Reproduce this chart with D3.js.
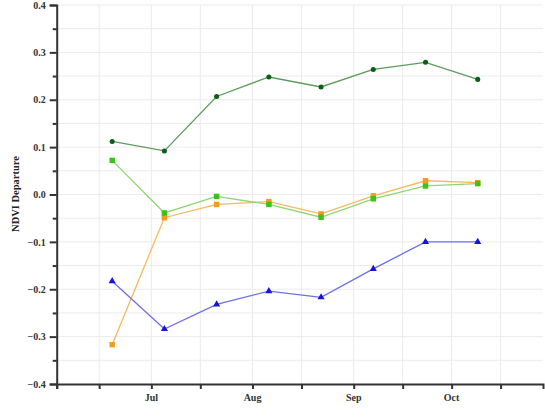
<!DOCTYPE html>
<html>
<head>
<meta charset="utf-8">
<script src="https://cdn.jsdelivr.net/npm/d3@7/dist/d3.min.js"></script>
<style>
  html, body { margin: 0; padding: 0; background: #fff; }
  svg { display: block; }
  .tick text { font-family: "Liberation Serif", "Times New Roman", serif; font-weight: bold; font-size: 10px; fill: #333; }
</style>
</head>
<body>
<svg id="chart" width="545" height="417"></svg>
<script>
// 16-day composite dates
const dates = ["2000-06-19", "2000-07-05", "2000-07-21", "2000-08-06", "2000-08-22", "2000-09-07", "2000-09-23", "2000-10-09"];

// NDVI departure series
const seriesDarkGreen = [0.112, 0.092, 0.207, 0.248, 0.227, 0.264, 0.279, 0.243];
const seriesGreen     = [0.072, -0.039, -0.004, -0.021, -0.048, -0.009, 0.018, 0.023];
const seriesOrange    = [-0.317, -0.049, -0.021, -0.015, -0.041, -0.003, 0.029, 0.025];
const seriesBlue      = [-0.183, -0.284, -0.232, -0.204, -0.217, -0.157, -0.100, -0.100];

// axis ticks
const yTicks = [0.4, 0.3, 0.2, 0.1, 0.0, -0.1, -0.2, -0.3, -0.4];
const yMinorTicks = [0.35, 0.25, 0.15, 0.05, -0.05, -0.15, -0.25, -0.35];
const xTickDates = ["2000-06-15", "2000-07-01", "2000-07-16", "2000-08-01", "2000-08-16", "2000-09-01", "2000-09-16", "2000-10-01", "2000-10-16"];
const monthLabels = ["Jul", "Aug", "Sep", "Oct"];
const monthLabelDates = ["2000-07-01", "2000-08-01", "2000-09-01", "2000-10-01"];
const yTitle = "NDVI Departure";

const parse = d3.utcParse("%Y-%m-%d");
const svg = d3.select("#chart");

const x = d3.scaleUtc()
  .domain([parse("2000-06-02"), parse("2000-10-29")])
  .range([56.7, 543]);
const y = d3.scaleLinear().domain([-0.4, 0.4]).range([384, 5]);

const axisColor = "#333";
const gridColor = "#ebebeb";

// grid
const grid = svg.append("g");
grid.selectAll("line.h")
  .data(yTicks.concat(yMinorTicks).filter(v => v > -0.4))
  .join("line")
  .attr("x1", x.range()[0]).attr("x2", x.range()[1])
  .attr("y1", d => y(d)).attr("y2", d => y(d))
  .attr("stroke", gridColor).attr("stroke-width", 1);
grid.selectAll("line.v")
  .data(xTickDates.map(parse))
  .join("line")
  .attr("x1", d => x(d)).attr("x2", d => x(d))
  .attr("y1", y(0.4)).attr("y2", y(-0.4))
  .attr("stroke", gridColor).attr("stroke-width", 1);

// y axis
const yAxis = svg.append("g")
  .attr("transform", `translate(${x.range()[0]},0)`)
  .call(d3.axisLeft(y).tickValues(yTicks).tickFormat(d3.format(".1f")).tickSize(7).tickPadding(4));
yAxis.select(".domain").attr("stroke", axisColor).attr("stroke-width", 2);
yAxis.selectAll(".tick line").attr("stroke", axisColor).attr("stroke-width", 2);
yAxis.selectAll(".tick text").text(d => d === 0 ? "0.0" : d3.format(".1f")(d));

const yMinor = svg.append("g")
  .attr("transform", `translate(${x.range()[0]},0)`)
  .call(d3.axisLeft(y).tickValues(yMinorTicks).tickFormat("").tickSize(4));
yMinor.select(".domain").remove();
yMinor.selectAll(".tick line").attr("stroke", axisColor).attr("stroke-width", 2);

// x axis
const xAxis = svg.append("g")
  .attr("transform", `translate(0,${y(-0.4)})`)
  .call(d3.axisBottom(x).tickValues(xTickDates.map(parse).concat([x.domain()[0]])).tickFormat("").tickSize(5));
xAxis.select(".domain").attr("stroke", axisColor).attr("stroke-width", 2);
xAxis.selectAll(".tick line").attr("stroke", axisColor).attr("stroke-width", 2);

svg.append("g").selectAll("text")
  .data(monthLabels)
  .join("text")
  .attr("x", (d, i) => x(parse(monthLabelDates[i])))
  .attr("y", 401)
  .attr("text-anchor", "middle")
  .style("font-family", '"Liberation Serif", "Times New Roman", serif')
  .style("font-weight", "bold").style("font-size", "10px").attr("fill", "#333")
  .text(d => d);

// y title
svg.append("text")
  .attr("transform", `translate(19,194) rotate(-90)`)
  .attr("text-anchor", "middle")
  .style("font-family", '"Liberation Serif", "Times New Roman", serif')
  .style("font-weight", "bold").style("font-size", "10.5px").attr("fill", "#222")
  .text(yTitle);

// series
const series = [
  { values: seriesOrange, line: "#f7b862", fill: "#f59c1a", shape: d3.symbolSquare, size: 30 },
  { values: seriesGreen, line: "#8fd672", fill: "#3cc31a", shape: d3.symbolSquare, size: 30 },
  { values: seriesDarkGreen, line: "#5e9a5e", fill: "#0b5e16", shape: d3.symbolCircle, size: 20 },
  { values: seriesBlue, line: "#6f6fe6", fill: "#1414dc", shape: d3.symbolTriangle, size: 22 }
];

const line = d3.line().x(d => x(d.date)).y(d => y(d.v));

series.forEach(s => {
  const pts = s.values.map((v, i) => ({ date: parse(dates[i]), v }));
  svg.append("path")
    .datum(pts)
    .attr("d", line)
    .attr("fill", "none")
    .attr("stroke", s.line)
    .attr("stroke-width", 1.3);
  svg.append("g").selectAll("path")
    .data(pts)
    .join("path")
    .attr("transform", d => `translate(${x(d.date)},${y(d.v)})`)
    .attr("d", d3.symbol().type(s.shape).size(s.size))
    .attr("fill", s.fill);
});
</script>
</body>
</html>
